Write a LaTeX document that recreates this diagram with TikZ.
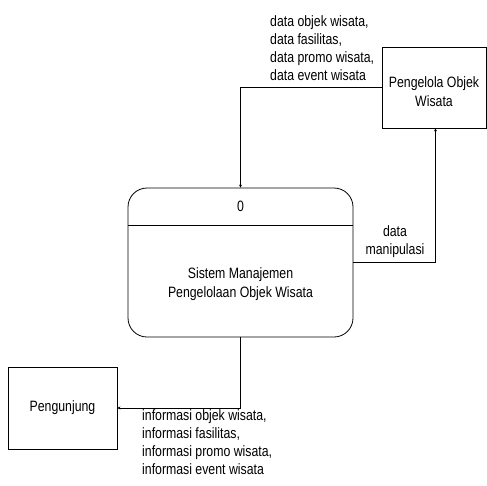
\documentclass[tikz,border=0pt]{standalone}
\usepackage{fontspec}
\setmainfont{Liberation Sans}[FakeStretch=0.82]
\usetikzlibrary{arrows.meta,calc}
\begin{document}
\begin{tikzpicture}[x=1pt,y=-1pt,
  every node/.style={font=\fontsize{15}{18.3}\selectfont},
  entity/.style={draw,line width=0.8pt,inner sep=0pt,align=center},
  proc/.style={draw,line width=0.8pt,rounded corners=19pt,inner sep=0pt},
  flow/.style={line width=0.8pt,-{Stealth[length=3pt,width=3pt]}},
  lbl/.style={inner sep=0pt,align=left}]
\useasboundingbox (0,0) rectangle (487,485);
\node[entity,minimum width=104pt,minimum height=81pt] (peng) at (434,87.5) {};
\node[inner sep=0pt,align=center] (pengtxt) at (434,91.5) {Pengelola Objek\\Wisata};
\node[proc,minimum width=225pt,minimum height=149pt] (sys) at (240.5,262.5) {};
\coordinate (dl) at (128,225);
\coordinate (dr) at (353,225);
\draw[line width=0.8pt] (dl) -- (dr);
\node[inner sep=0pt] (num) at (240.5,206) {0};
\node[inner sep=0pt,align=center] (sysname) at (240.5,284) {Sistem Manajemen\\Pengelolaan Objek Wisata};
\node[entity,minimum width=109pt,minimum height=82pt] (pgj) at (62.5,408) {Pengunjung};
\draw[flow] (peng.west) -| (sys.north);
\draw[flow] (sys.east) -| ([xshift=1.5pt]peng.south);
\draw[flow] (sys.south) |- (pgj.east);
\node[lbl,anchor=north west] (l1) at (270,15) {data objek wisata,\\data fasilitas,\\data promo wisata,\\data event wisata};
\node[lbl,align=center,anchor=north] (l2) at (395,225) {data\\manipulasi};
\node[lbl,anchor=north west] (l3) at (142,409) {informasi objek wisata,\\informasi fasilitas,\\informasi promo wisata,\\informasi event wisata};
\end{tikzpicture}
\end{document}
